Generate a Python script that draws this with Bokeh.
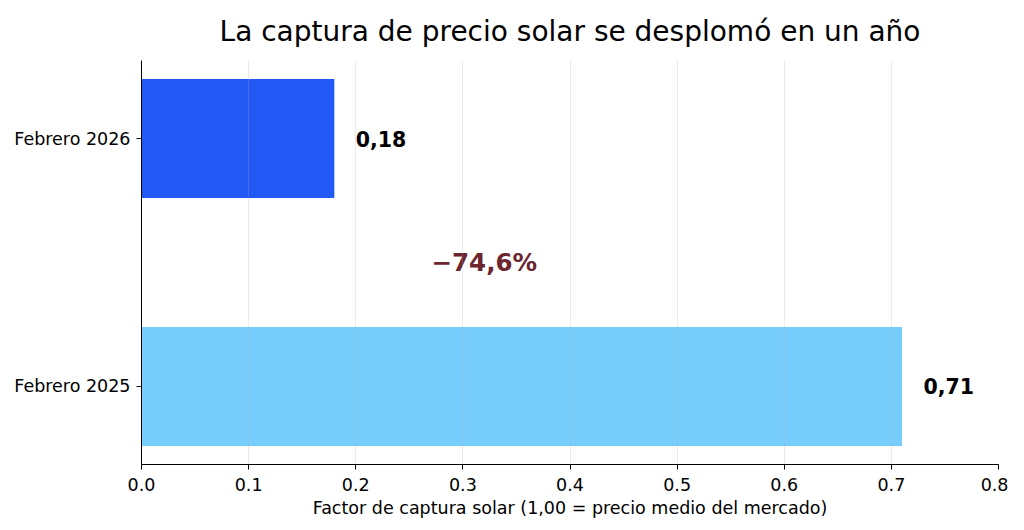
from bokeh.plotting import figure
from bokeh.models import ColumnDataSource, FixedTicker, NumeralTickFormatter, Label
from bokeh.embed import file_html
from bokeh.resources import INLINE

title_text = "La captura de precio solar se desplomó en un año"
categories = ["Febrero 2025", "Febrero 2026"]
values = [0.71, 0.18]
value_labels = ["0,71", "0,18"]
colors = ["#77CEFC", "#2259F5"]
change_label = "\u221274,6%"
x_ticks = [0.0, 0.1, 0.2, 0.3, 0.4, 0.5, 0.6, 0.7, 0.8]

FONT = "DejaVu Sans"
pos = list(range(len(categories)))

src = ColumnDataSource(dict(y=pos, v=values, c=colors,
                            lx=[v + 0.02 for v in values], lab=value_labels))

p = figure(width=1008, height=520, output_backend="svg", toolbar_location=None,
           x_range=(0, 0.8), y_range=(-0.315, 1.315),
           min_border_left=141, min_border_right=10, min_border_top=60, min_border_bottom=56)

p.hbar(y="y", right="v", left=0, height=0.48, fill_color="c", line_color=None, source=src)
p.text(x="lx", y="y", text="lab", source=src, text_align="left", text_baseline="middle",
       text_font_size="20.5px", text_font_style="bold", text_color="black", text_font={"value": FONT})

p.add_layout(Label(x=0.32, y=0.5, text=change_label, text_align="center", text_baseline="middle",
                   text_font_size="24.5px", text_font_style="bold", text_color="#6B2630", text_font=FONT))

p.title.text = title_text
p.title.align = "center"
p.title.text_font = FONT
p.title.text_font_size = "28px"
p.title.text_font_style = "normal"
p.title.text_color = "black"
p.title.offset = 0
p.title.standoff = 22
p.title.vertical_align = "top"
p.title.text_line_height = 1.0

p.outline_line_color = None
p.ygrid.grid_line_color = None
p.xgrid.grid_line_color = "#b0b0b0"
p.xgrid.grid_line_alpha = 0.25
p.xgrid.level = "overlay"
p.xgrid.ticker = FixedTicker(ticks=x_ticks)

p.xaxis.ticker = FixedTicker(ticks=x_ticks)
p.xaxis.formatter = NumeralTickFormatter(format="0.0")
p.yaxis.ticker = FixedTicker(ticks=pos)
p.yaxis.major_label_overrides = {i: c for i, c in zip(pos, categories)}
p.xaxis.axis_label = "Factor de captura solar (1,00 = precio medio del mercado)"

for ax in (p.xaxis, p.yaxis):
    ax.axis_line_color = "black"
    ax.major_tick_line_color = "black"
    ax.major_tick_out = 5
    ax.major_tick_in = 0
    ax.minor_tick_line_color = None
    ax.major_label_text_font = FONT
    ax.major_label_text_font_size = "17.5px"
    ax.major_label_text_color = "black"
    ax.axis_label_text_font = FONT
    ax.axis_label_text_font_size = "17.5px"
    ax.axis_label_text_font_style = "normal"
    ax.axis_label_text_color = "black"
p.xaxis.major_label_standoff = 8
p.xaxis.axis_label_standoff = 4
p.yaxis.major_label_standoff = 6

open("out.html", "w").write(file_html(p, INLINE))
